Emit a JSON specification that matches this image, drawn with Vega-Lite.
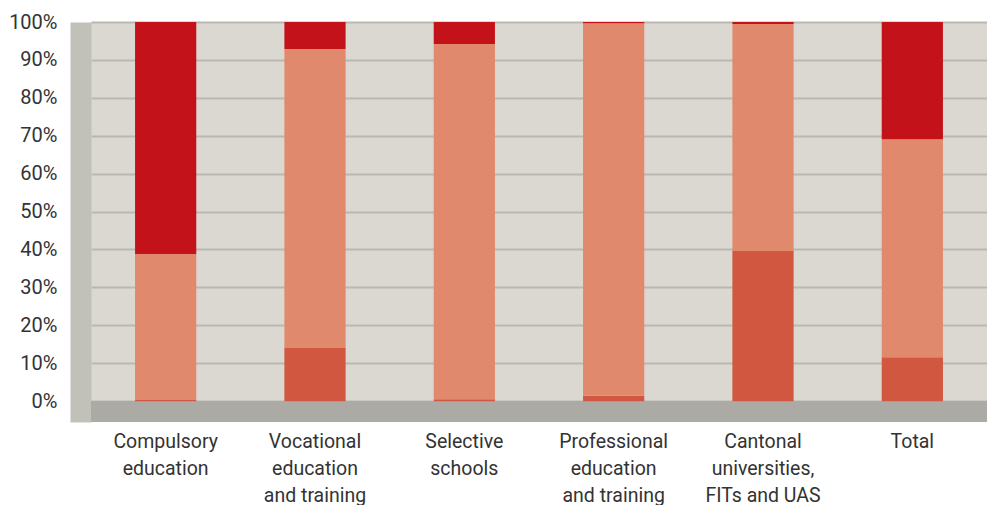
{
  "$schema": "https://vega.github.io/schema/vega-lite/v6.json",
  "width": 896,
  "height": 400,
  "autosize": {"type": "none"},
  "padding": {"left": 91, "top": 22, "right": 0, "bottom": 83},
  "background": "#ffffff",
  "config": {
    "view": {"fill": "#dbd8d1", "stroke": null},
    "font": "Roboto"
  },
  "data": {
    "values": [
      {"sector": "Compulsory|education", "source": "Confederation", "rank": 1, "share": 0.3},
      {"sector": "Compulsory|education", "source": "Cantons", "rank": 2, "share": 38.5},
      {"sector": "Compulsory|education", "source": "Communes", "rank": 3, "share": 61.2},
      {"sector": "Vocational|education|and training", "source": "Confederation", "rank": 1, "share": 14.0},
      {"sector": "Vocational|education|and training", "source": "Cantons", "rank": 2, "share": 78.9},
      {"sector": "Vocational|education|and training", "source": "Communes", "rank": 3, "share": 7.1},
      {"sector": "Selective|schools", "source": "Confederation", "rank": 1, "share": 0.5},
      {"sector": "Selective|schools", "source": "Cantons", "rank": 2, "share": 93.7},
      {"sector": "Selective|schools", "source": "Communes", "rank": 3, "share": 5.8},
      {"sector": "Professional|education|and training", "source": "Confederation", "rank": 1, "share": 1.4},
      {"sector": "Professional|education|and training", "source": "Cantons", "rank": 2, "share": 98.3},
      {"sector": "Professional|education|and training", "source": "Communes", "rank": 3, "share": 0.3},
      {"sector": "Cantonal|universities,|FITs and UAS", "source": "Confederation", "rank": 1, "share": 39.6},
      {"sector": "Cantonal|universities,|FITs and UAS", "source": "Cantons", "rank": 2, "share": 59.9},
      {"sector": "Cantonal|universities,|FITs and UAS", "source": "Communes", "rank": 3, "share": 0.5},
      {"sector": "Total", "source": "Confederation", "rank": 1, "share": 11.6},
      {"sector": "Total", "source": "Cantons", "rank": 2, "share": 57.5},
      {"sector": "Total", "source": "Communes", "rank": 3, "share": 30.9}
    ]
  },
  "layer": [
    {
      "mark": {"type": "rect", "color": "#abaaa4"},
      "encoding": {
        "y": {
          "datum": -5.5,
          "type": "quantitative",
          "scale": {"domain": [-5.5, 100], "nice": false, "zero": false},
          "axis": {
            "title": null,
            "values": [0, 10, 20, 30, 40, 50, 60, 70, 80, 90, 100],
            "labelExpr": "datum.value + '%'",
            "labelOverlap": false,
            "ticks": false,
            "offset": 10.5,
            "domainColor": "#c2c1b9",
            "domainWidth": 21,
            "domainCap": "butt",
            "grid": true,
            "gridColor": "#bcb8b1",
            "gridWidth": 2,
            "labelFontSize": 20,
            "labelColor": "#333333",
            "labelPadding": 23.5
          }
        },
        "y2": {"datum": 0}
      }
    },
    {
      "mark": {"type": "bar"},
      "encoding": {
        "x": {
          "field": "sector",
          "type": "nominal",
          "sort": null,
          "scale": {"paddingInner": 0.59, "paddingOuter": 0.295},
          "axis": {
            "title": null,
            "labelAngle": 0,
            "ticks": false,
            "domain": false,
            "labelExpr": "split(datum.label, '|')",
            "labelFontSize": 19.5,
            "labelColor": "#333333",
            "labelPadding": 10,
            "labelLineHeight": 27,
            "labelOverlap": false
          }
        },
        "y": {
          "field": "share",
          "type": "quantitative",
          "stack": "zero",
          "scale": {"domain": [-5.5, 100], "nice": false, "zero": false},
          "axis": {
            "title": null,
            "values": [0, 10, 20, 30, 40, 50, 60, 70, 80, 90, 100],
            "labelExpr": "datum.value + '%'",
            "labelOverlap": false,
            "ticks": false,
            "offset": 10.5,
            "domainColor": "#c2c1b9",
            "domainWidth": 21,
            "domainCap": "butt",
            "grid": true,
            "gridColor": "#bcb8b1",
            "gridWidth": 2,
            "labelFontSize": 20,
            "labelColor": "#333333",
            "labelPadding": 23.5
          }
        },
        "color": {
          "field": "source",
          "type": "nominal",
          "scale": {"domain": ["Confederation", "Cantons", "Communes"], "range": ["#d25740", "#e0896d", "#c4121b"]},
          "legend": null
        },
        "order": {"field": "rank", "type": "quantitative"}
      }
    }
  ]
}
